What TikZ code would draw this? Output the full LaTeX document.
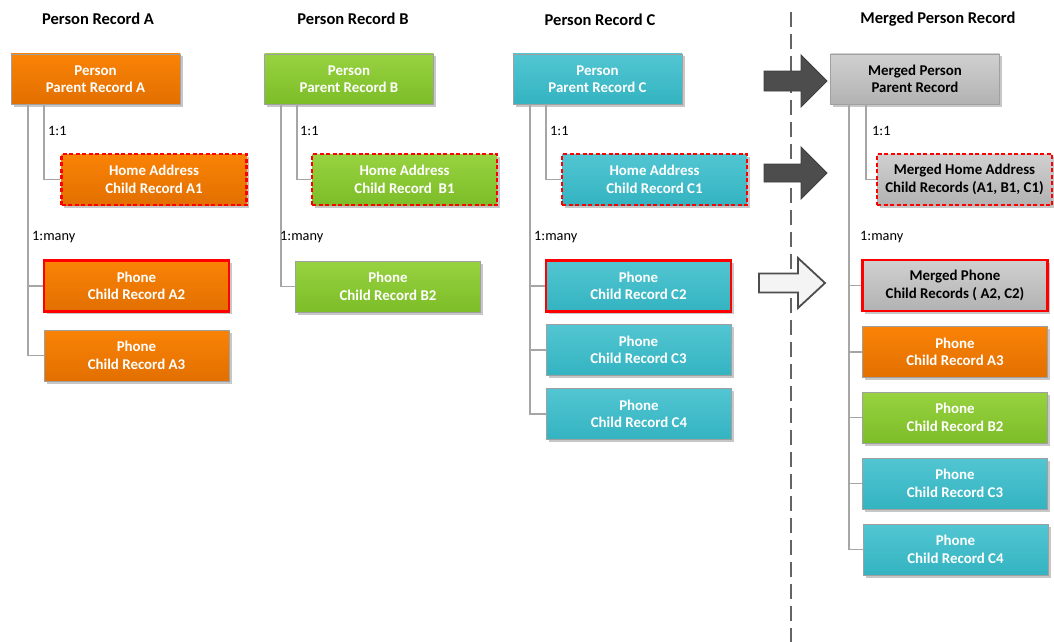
\documentclass[tikz,border=0pt]{standalone}
\usepackage{fontspec}
\setmainfont{Carlito}
\usetikzlibrary{shadows}
\definecolor{oTop}{RGB}{250,131,6}
\definecolor{oBot}{RGB}{226,111,0}
\definecolor{gTop}{RGB}{152,210,64}
\definecolor{gBot}{RGB}{124,189,40}
\definecolor{cTop}{RGB}{82,198,210}
\definecolor{cBot}{RGB}{52,179,193}
\definecolor{mTop}{RGB}{208,208,208}
\definecolor{mBot}{RGB}{178,178,178}
\definecolor{bordergray}{RGB}{160,160,160}
\definecolor{conngray}{RGB}{166,166,166}
\definecolor{arrowdark}{RGB}{77,77,77}
\definecolor{arrowlight}{RGB}{244,244,244}
\definecolor{sepgray}{RGB}{100,100,100}
\begin{document}
\begin{tikzpicture}[x=1pt,y=-1pt,
  box/.style={draw=bordergray, line width=0.8pt, inner sep=0pt, align=center,
    font=\fontsize{14.9}{17.5}\selectfont\bfseries, text=white,
    drop shadow={shadow xshift=2.5pt, shadow yshift=-2.5pt, opacity=0.22, fill=black}},
  parentbox/.style={box, minimum width=169pt, minimum height=50pt},
  childbox/.style={box, minimum width=185pt, minimum height=51pt},
  fillO/.style={top color=oTop, bottom color=oBot},
  fillG/.style={top color=gTop, bottom color=gBot},
  fillC/.style={top color=cTop, bottom color=cBot},
  fillM/.style={top color=mTop, bottom color=mBot, text=black},
  redsolid/.style={draw=red, line width=2.2pt},
  reddash/.style={draw=red, line width=2.2pt, dash pattern=on 4pt off 2.5pt},
  conn/.style={draw=conngray, line width=1.6pt},
  rel/.style={anchor=west, inner sep=0pt, font=\fontsize{14.3}{16}\selectfont},
  title/.style={inner sep=0pt, font=\fontsize{16.5}{19}\selectfont\bfseries},
  darkarrow/.style={fill=arrowdark, draw=arrowdark!80!black, line width=0.8pt, line join=miter},
  lightarrow/.style={fill=arrowlight, draw=arrowdark, line width=1.8pt, line join=miter},
  sep/.style={draw=sepgray, line width=1.8pt, dash pattern=on 15pt off 7pt}
]
\useasboundingbox (0,0) rectangle (1054,642);

% titles
\node[title] (tA) at (98,19) {Person Record A};
\node[title] (tB) at (353,19) {Person Record B};
\node[title] (tC) at (600,20) {Person Record C};
\node[title] (tM) at (938,19) {Merged Person Record};

% separator
\coordinate (sepTop) at (791,12);
\coordinate (sepBot) at (791,642);
\draw[sep] (sepTop) -- (sepBot);

% connector start points below the parents
\coordinate (aMain) at (28,104);
\coordinate (aOne) at (44,104);
\coordinate (bMain) at (281,104);
\coordinate (bOne) at (297,104);
\coordinate (cMain) at (530,104);
\coordinate (cOne) at (546,104);
\coordinate (mMain) at (849,104);
\coordinate (mOne) at (866,104);

% ---- boxes ----
\node[parentbox, fillO] (pA) at (95.5,79) {Person\\Parent Record A};
\node[childbox, fillO, reddash] (hA) at (154,179.5) {Home Address\\Child Record A1};
\node[childbox, fillO, redsolid] (pA2) at (136.5,286) {Phone\\Child Record A2};
\node[childbox, fillO] (pA3) at (136.5,355.5) {Phone\\Child Record A3};

\node[parentbox, fillG] (pB) at (349,79) {Person\\Parent Record B};
\node[childbox, fillG, reddash] (hB) at (404.5,179.5) {Home Address\\Child Record~~B1};
\node[childbox, fillG] (pB2) at (388,286.5) {Phone\\Child Record B2};

\node[parentbox, fillC] (pC) at (597.5,79) {Person\\Parent Record C};
\node[childbox, fillC, reddash] (hC) at (654.5,179.5) {Home Address\\Child Record C1};
\node[childbox, fillC, redsolid] (pC2) at (638.5,286) {Phone\\Child Record C2};
\node[childbox, fillC] (pC3) at (638.5,350) {Phone\\Child Record C3};
\node[childbox, fillC] (pC4) at (639,414) {Phone\\Child Record C4};

\node[parentbox, fillM] (pM) at (915,79) {Merged Person\\Parent Record};
\node[childbox, fillM, reddash, minimum width=175pt] (hM) at (964.5,179.5) {Merged Home Address\\Child Records (A1, B1, C1)};
\node[childbox, fillM, redsolid] (mPh) at (955,285.5) {Merged Phone\\Child Records ( A2, C2)};
\node[childbox, fillO] (mA3) at (955,352) {Phone\\Child Record A3};
\node[childbox, fillG] (mB2) at (955,417.5) {Phone\\Child Record B2};
\node[childbox, fillC] (mC3) at (955,483.5) {Phone\\Child Record C3};
\node[childbox, fillC] (mC4) at (955.5,549.5) {Phone\\Child Record C4};

% ---- connectors ----
\draw[conn] (aOne) |- (hA.west);
\draw[conn] (aMain) |- (pA2.west);
\draw[conn] (aMain) |- (pA3.west);
\draw[conn] (bOne) |- (hB.west);
\draw[conn] (bMain) |- (pB2.west);
\draw[conn] (cOne) |- (hC.west);
\draw[conn] (cMain) |- (pC2.west);
\draw[conn] (cMain) |- (pC3.west);
\draw[conn] (cMain) |- (pC4.west);
\draw[conn] (mOne) |- (hM.west);
\draw[conn] (mMain) |- (mPh.west);
\draw[conn] (mMain) |- (mA3.west);
\draw[conn] (mMain) |- (mB2.west);
\draw[conn] (mMain) |- (mC3.west);
\draw[conn] (mMain) |- (mC4.west);

% relation labels
\node[rel] (lA1) at (48,131) {1:1};
\node[rel] (lAm) at (32,237) {1:many};
\node[rel] (lB1) at (300,131) {1:1};
\node[rel] (lBm) at (280,237) {1:many};
\node[rel] (lC1) at (550,131) {1:1};
\node[rel] (lCm) at (534,237) {1:many};
\node[rel] (lM1) at (872,131) {1:1};
\node[rel] (lMm) at (860,237) {1:many};

% block arrows
\filldraw[darkarrow] (764,71) -- (801,71) -- (801,55) -- (827,81) -- (801,107) -- (801,91) -- (764,91) -- cycle;
\filldraw[darkarrow] (764,164) -- (801,164) -- (801,147) -- (827,173) -- (801,199) -- (801,182) -- (764,182) -- cycle;
\filldraw[lightarrow] (759,273.5) -- (798,273.5) -- (798,258) -- (825,283) -- (798,308) -- (798,292.5) -- (759,292.5) -- cycle;
\end{tikzpicture}
\end{document}
